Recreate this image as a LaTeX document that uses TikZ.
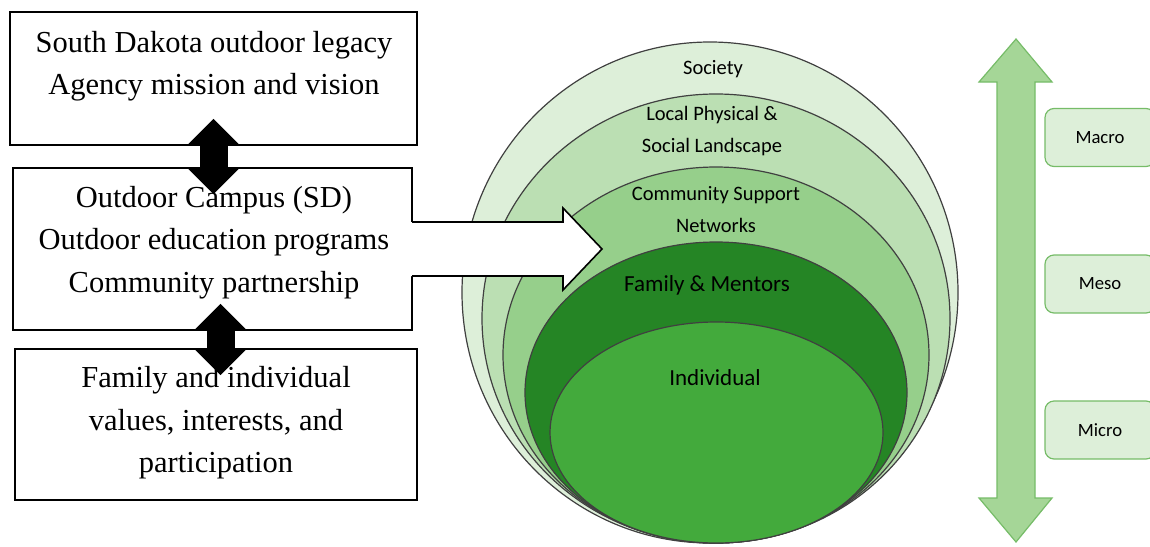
\documentclass[tikz,border=0pt]{standalone}
\usepackage{fontspec}
\setmainfont{Liberation Serif}
\newfontfamily\calfont{Carlito}
\usepackage{xcolor}
\definecolor{ringone}{RGB}{221,239,217}
\definecolor{ringtwo}{RGB}{187,223,179}
\definecolor{ringthree}{RGB}{150,207,139}
\definecolor{ringfour}{RGB}{37,133,37}
\definecolor{ringfive}{RGB}{67,170,60}
\definecolor{arrowfill}{RGB}{165,214,151}
\definecolor{arrowedge}{RGB}{118,188,104}
\usepackage{tikz}
\usetikzlibrary{arrows.meta}

\begin{document}
\begin{tikzpicture}[x=1pt,y=-1pt,line join=miter]
	\tikzstyle{box}=[draw,line width=1.6pt,inner sep=0pt];
	\tikzstyle{serif}=[align=center,font=\fontsize{30.5}{42.5}\selectfont];
	\tikzstyle{ring}=[draw=black!75,line width=1.2pt];
	\tikzstyle{lbl}=[align=center,font=\calfont\fontsize{20.5}{32}\selectfont];
	\tikzstyle{biglbl}=[font=\calfont\fontsize{23}{28}\selectfont];
	\tikzstyle{link}=[line width=28pt,{Triangle[width=52pt,length=27pt]}-{Triangle[width=52pt,length=27pt]}];
	\tikzstyle{tierbox}=[draw=arrowedge,fill=ringone,line width=1.2pt,rounded corners=9pt,minimum width=110pt,minimum height=58pt,font=\calfont\fontsize{18.7}{22}\selectfont];
	\useasboundingbox (0,0) rectangle (1150,546);
	%% Nested Circles
	\draw[ring,fill=ringone] (710,292.5) ellipse [x radius=248,y radius=250.5];
	\draw[ring,fill=ringtwo] (716,318.5) ellipse [x radius=234,y radius=224.5];
	\draw[ring,fill=ringthree] (716,355) ellipse [x radius=213,y radius=188];
	\draw[ring,fill=ringfour] (716,392.5) ellipse [x radius=191,y radius=150.5];
	\draw[ring,fill=ringfive] (716.5,432.5) ellipse [x radius=166.5,y radius=110.5];
	%% Circle Labels
	\node[lbl] (society) at (713,69) {Society};
	\node[lbl] (local) at (712,131) {Local Physical \&\\Social Landscape};
	\node[lbl] (community) at (716,210) {Community Support\\Networks};
	\node[biglbl] (mentors) at (707,285) {Family \& Mentors};
	\node[biglbl] (individual) at (715,378) {Individual};
	%% Boxes
	\node[box,minimum width=407pt,minimum height=133pt] (legacy) at (213.5,78.5) {};
	\node[box,minimum width=399pt,minimum height=162pt] (campus) at (212.5,249) {};
	\node[box,minimum width=402pt,minimum height=151pt] (family) at (216,424.5) {};
	\node[serif] (legacytxt) at (214,66) {South Dakota outdoor legacy\\Agency mission and vision};
	\node[serif] (campustxt) at (214,242.5) {Outdoor Campus (SD)\\Outdoor education programs\\Community partnership};
	\node[serif] (familytxt) at (216,423) {Family and individual\\values, interests, and\\participation};
	%% Links
	\draw[link] ([yshift=27pt]legacy.south) -- ([yshift=-27pt]legacy.south |- campus.north);
	\draw[link] ([xshift=8pt,yshift=27pt]campus.south) -- ([xshift=8pt,yshift=-27pt]campus.south |- family.north);
	%% Big Arrow
	\coordinate (tip) at (602,249);
	\fill[white] ([xshift=-2pt,yshift=27pt]campus.east) -- (563,222) -- (563,208) -- (tip) -- (563,290) -- (563,276) -- ([xshift=-2pt,yshift=-27pt]campus.east) -- cycle;
	\draw[line width=1.6pt,line cap=rect] ([yshift=27pt]campus.east) -- (563,222) -- (563,208) -- (tip) -- (563,290) -- (563,276) -- ([yshift=-27pt]campus.east);
	%% Scale Arrow
	\draw[draw=arrowedge,fill=arrowfill,line width=1.2pt] (1016,39) -- (1052,82) -- (1035,82) -- (1035,498) -- (1052,498) -- (1016,542) -- (979,498) -- (997,498) -- (997,82) -- (979,82) -- cycle;
	%% Tiers
	\node[tierbox] (macro) at (1100,137.5) {Macro};
	\node[tierbox] (meso) at (1100,284) {Meso};
	\node[tierbox] (micro) at (1100,430) {Micro};
\end{tikzpicture}
\end{document}
